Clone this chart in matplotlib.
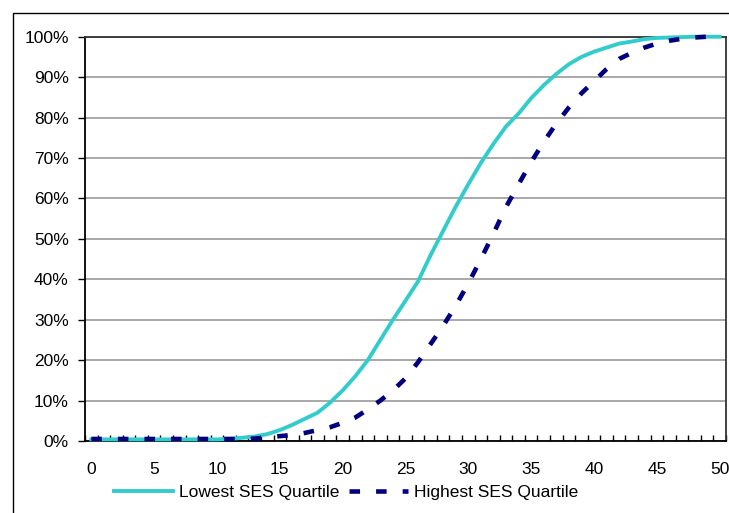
import matplotlib
matplotlib.use("Agg")
import matplotlib.pyplot as plt
from matplotlib.ticker import FixedLocator, PercentFormatter
from matplotlib.patches import Rectangle

plt.rcParams['font.family'] = ['Liberation Sans', 'DejaVu Sans']

x_values = list(range(0, 51))
lowest_ses = [0.4, 0.4, 0.4, 0.4, 0.4, 0.4, 0.4, 0.4, 0.4, 0.4,
              0.4, 0.5, 0.8, 1.1, 1.7, 2.7, 4.0, 5.5, 7.0, 9.5,
              12.5, 16.0, 20.0, 25.0, 30.0, 34.7, 39.5, 46.0, 52.0, 58.0,
              63.5, 68.8, 73.5, 77.8, 81.0, 84.8, 88.0, 90.8, 93.2, 95.0,
              96.3, 97.3, 98.3, 98.8, 99.4, 99.7, 99.8, 99.9, 100.0, 100.0,
              100.0]
highest_ses = [0.5, 0.5, 0.5, 0.5, 0.5, 0.5, 0.5, 0.5, 0.5, 0.5,
               0.5, 0.5, 0.5, 0.6, 0.9, 1.2, 1.5, 2.0, 2.7, 3.4,
               4.5, 5.8, 7.8, 10.0, 12.5, 15.5, 19.5, 24.0, 28.5, 33.5,
               39.0, 45.0, 51.3, 57.9, 63.5, 69.0, 74.0, 78.5, 82.5, 86.0,
               89.0, 92.0, 94.5, 96.0, 97.3, 98.3, 99.0, 99.5, 99.8, 100.0,
               100.0]
series_labels = ["Lowest SES Quartile", "Highest SES Quartile"]
x_tick_labels = [0, 5, 10, 15, 20, 25, 30, 35, 40, 45, 50]
y_ticks = [0, 10, 20, 30, 40, 50, 60, 70, 80, 90, 100]

W, H = 729, 513
FS = 12.5
fig = plt.figure(figsize=(W / 100, H / 100), dpi=100)

# outer chart frame
fig.patches.append(Rectangle((12.5 / W, -0.1), 1.2, 1 - 13 / H + 0.1,
                             transform=fig.transFigure, fill=False,
                             edgecolor='black', linewidth=1.0))

ax = fig.add_axes([85 / W, 1 - 441 / H, (726 - 85) / W, (441 - 36.7) / H])

ax.plot(x_values, lowest_ses, color='#33CCCC', linewidth=2.8,
        label=series_labels[0], clip_on=False, zorder=3)
ax.plot(x_values, highest_ses, color='#000080', linewidth=3.3,
        dashes=(2.3, 3.5), dash_capstyle='butt', label=series_labels[1],
        clip_on=False, zorder=4)

ax.set_xlim(-0.5, 50.5)
ax.set_ylim(0, 100)

ax.xaxis.set_major_locator(FixedLocator(x_tick_labels))
ax.xaxis.set_minor_locator(FixedLocator([k - 0.5 for k in range(0, 52)]))
ax.tick_params(axis='x', which='major', length=0, pad=15, labelsize=FS)
ax.tick_params(axis='x', which='minor', direction='in', length=4, width=1, color='black')

ax.yaxis.set_major_locator(FixedLocator(y_ticks))
ax.yaxis.set_major_formatter(PercentFormatter(decimals=0))
ax.tick_params(axis='y', which='major', direction='out', length=4.7, width=1, pad=7,
               labelsize=FS)

ax.grid(axis='y', color='#9A9A9A', linewidth=1.2)
ax.set_axisbelow(True)

for side in ['left', 'bottom']:
    ax.spines[side].set_color('black')
    ax.spines[side].set_linewidth(1.3)
for side in ['top', 'right']:
    ax.spines[side].set_color('#333333')
    ax.spines[side].set_linewidth(1.3)

fig.legend(loc='center', bbox_to_anchor=(346 / W, 1 - 492.5 / H), ncol=2,
           frameon=False, fontsize=FS, handlelength=3.4, handletextpad=0.35,
           columnspacing=0.57, borderaxespad=0, borderpad=0)

fig.savefig('out.png', dpi=100)
